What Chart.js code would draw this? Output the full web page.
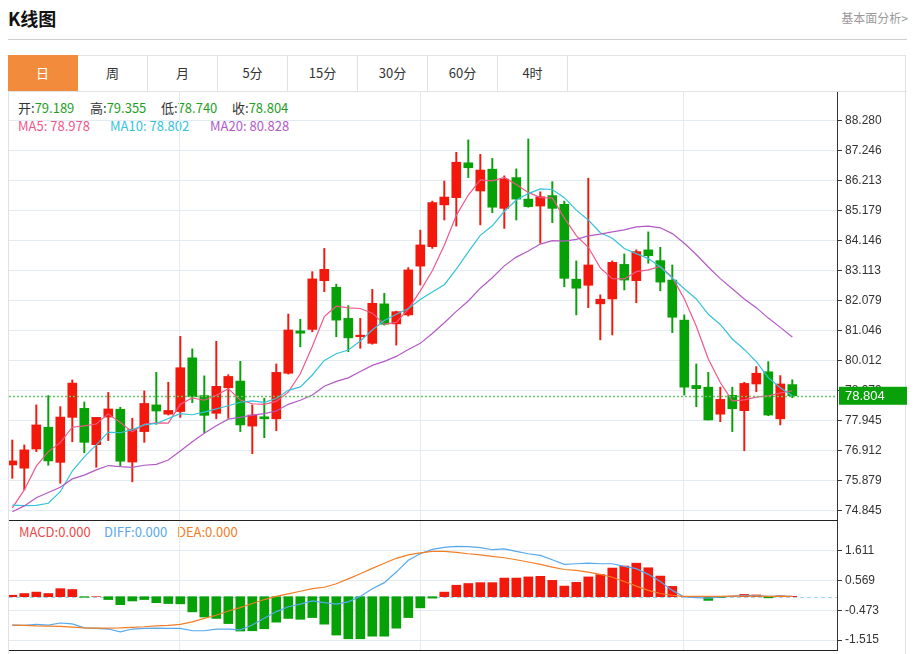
<!DOCTYPE html>
<html lang="zh">
<head>
<meta charset="UTF-8">
<title>K线图</title>
<script src="https://cdn.jsdelivr.net/npm/chart.js@4"></script>
<style>
  body { margin: 0; width: 916px; height: 654px; overflow: hidden; background: #fff; position: relative;
         font-family: "Noto Sans CJK SC", "Liberation Sans", sans-serif; color: #333; }
  .abs { position: absolute; }
  .title { left: 8px; top: 6px; font-size: 18px; font-weight: 700; color: #111; line-height: 24px; }
  .link { right: 8px; top: 9px; font-size: 12px; color: #999; line-height: 18px; }
  .hr { left: 8px; top: 39px; width: 899px; height: 1px; background: #cfcfcf; }
  .panel { left: 8px; top: 55px; width: 898px; height: 620px; border: 1px solid #e2e2e2; box-sizing: border-box; }
  .tabbar { left: 8px; top: 91px; width: 899px; height: 1px; background: #e2e2e2; }
  .tab { top: 55px; width: 70px; height: 36px; line-height: 36px; text-align: center; font-size: 13px;
         color: #333; border-right: 1px solid #e2e2e2; box-sizing: border-box; }
  .tab.on { background: #f28c3c; color: #fff; border-right-color: #f28c3c; }
  .leg { font-size: 13px; line-height: 18px; white-space: nowrap; }
  .k { color: #333; }
  .g { color: #1f9f1f; }
  .blk { background: #222; height: 1px; }
  canvas { position: absolute; }
</style>
</head>
<body>
  <div class="abs title">K线图</div>
  <div class="abs link">基本面分析&gt;</div>
  <div class="abs hr"></div>
  <div class="abs panel"></div>
  <div id="tabs"></div>
  <div class="abs tabbar"></div>

  <div id="legend"></div>

  <canvas id="kline" width="898" height="429" style="left:9px; top:92px; width:898px; height:429px;"></canvas>
  <canvas id="macdChart" width="898" height="129" style="left:9px; top:521px; width:898px; height:129px;"></canvas>
  <div class="abs blk" style="left:9px; top:520px; width:829px;"></div>
  <div class="abs blk" style="left:9px; top:650px; width:829px;"></div>

<script>
  // 日K数据 (最后一根为当前)
  const tabNames = ["日", "周", "月", "5分", "15分", "30分", "60分", "4时"];

  const open = [76.42, 76.31, 76.97, 77.72, 76.51, 78.06, 78.37, 77.12, 78.07, 78.34,
    76.52, 77.57, 78.49, 78.17, 78.26, 80.11, 78.81, 78.20, 79.08, 79.31,
    77.76, 78.08, 78.01, 79.58, 81.04, 81.09, 82.77, 82.54, 81.47, 80.84,
    80.61, 81.97, 81.28, 81.59, 83.27, 83.94, 85.38, 85.63, 86.83, 85.86,
    86.61, 85.26, 86.32, 85.58, 85.34, 85.70, 85.40, 82.82, 82.61, 81.97,
    82.14, 83.33, 82.77, 83.83, 83.46, 82.79, 81.41, 79.16, 79.10, 78.17,
    78.82, 78.29, 79.21, 79.63, 78.01, 79.189];
  const high = [77.28, 77.11, 78.49, 78.81, 78.43, 79.35, 78.59, 78.06, 78.92, 78.41,
    78.03, 78.97, 79.61, 79.27, 80.85, 80.42, 79.49, 80.68, 79.53, 79.99,
    78.49, 78.72, 79.90, 81.62, 81.44, 83.08, 83.88, 82.65, 81.91, 81.47,
    82.47, 82.33, 81.72, 83.22, 84.51, 85.51, 86.20, 87.19, 87.62, 87.12,
    86.98, 86.38, 86.62, 87.65, 85.83, 86.18, 85.51, 83.45, 86.30, 82.28,
    83.45, 83.69, 83.83, 84.45, 83.92, 83.31, 81.59, 79.90, 79.61, 79.10,
    79.10, 79.27, 79.81, 79.98, 79.50, 79.355];
  const low = [75.96, 75.56, 76.88, 76.41, 75.79, 77.22, 76.84, 76.34, 77.26, 76.38,
    75.84, 77.20, 77.82, 78.14, 78.06, 78.57, 77.53, 78.01, 78.03, 77.57,
    76.81, 77.36, 77.60, 79.55, 80.49, 81.01, 82.39, 80.84, 80.32, 80.44,
    80.58, 81.24, 80.55, 81.55, 82.62, 83.88, 84.86, 84.65, 86.32, 84.69,
    85.11, 84.57, 84.86, 85.30, 84.06, 84.77, 82.56, 81.59, 81.84, 80.73,
    80.90, 82.45, 82.01, 83.37, 82.42, 80.98, 78.83, 78.43, 77.97, 77.91,
    77.57, 76.91, 78.94, 78.12, 77.80, 78.740];
  const close = [76.56, 76.94, 77.80, 76.56, 78.07, 79.24, 77.20, 78.06, 78.35, 76.55,
    77.65, 78.54, 78.28, 78.30, 79.77, 78.77, 78.13, 79.13, 79.47, 77.80,
    78.14, 78.01, 79.61, 81.07, 80.96, 82.83, 83.16, 81.41, 80.80, 80.87,
    81.99, 81.27, 81.70, 83.14, 84.00, 85.46, 85.65, 86.85, 86.66, 86.58,
    85.30, 86.27, 85.58, 85.32, 85.66, 85.26, 82.85, 82.51, 83.31, 82.13,
    83.40, 82.79, 83.77, 83.63, 82.72, 81.51, 79.10, 79.05, 77.97, 78.68,
    78.36, 79.23, 79.58, 78.14, 79.21, 78.804];

  const ma5 = [74.94, 75.56, 76.38, 76.88, 77.19, 77.72, 77.77, 77.83, 78.18, 77.88,
    77.56, 77.83, 77.87, 77.86, 78.51, 78.73, 78.65, 78.82, 79.05, 78.66,
    78.53, 78.51, 78.61, 78.93, 79.56, 80.50, 81.53, 81.89, 81.83, 81.81,
    81.65, 81.27, 81.33, 81.79, 82.42, 83.11, 83.99, 85.02, 85.72, 86.24,
    86.21, 86.33, 86.08, 85.81, 85.63, 85.62, 84.93, 84.32, 83.92, 83.21,
    82.84, 82.83, 83.08, 83.14, 83.26, 82.88, 82.15, 81.20, 80.07, 79.26,
    78.63, 78.66, 78.76, 78.80, 78.90, 78.978];
  const ma10 = [75.04, 75.02, 75.03, 75.10, 75.50, 76.21, 76.70, 77.11, 77.55, 77.53,
    77.64, 77.80, 77.85, 78.02, 78.19, 78.15, 78.24, 78.35, 78.46, 78.58,
    78.63, 78.58, 78.71, 78.99, 79.11, 79.52, 80.02, 80.25, 80.38, 80.69,
    81.07, 81.40, 81.61, 81.81, 82.12, 82.38, 82.63, 83.17, 83.76, 84.33,
    84.66, 85.16, 85.55, 85.77, 85.93, 85.91, 85.63, 85.20, 84.86, 84.42,
    84.23, 83.88, 83.70, 83.53, 83.24, 82.86, 82.49, 82.14, 81.61, 81.26,
    80.76, 80.40, 79.98, 79.43, 79.08, 78.802];
  const ma20 = [74.81, 75.01, 75.29, 75.47, 75.65, 75.94, 76.07, 76.25, 76.40, 76.36,
    76.34, 76.41, 76.44, 76.59, 76.90, 77.22, 77.51, 77.77, 78.00, 78.06,
    78.14, 78.19, 78.28, 78.51, 78.65, 78.83, 79.13, 79.30, 79.42, 79.64,
    79.85, 79.99, 80.16, 80.40, 80.61, 80.95, 81.32, 81.71, 82.07, 82.51,
    82.87, 83.28, 83.58, 83.79, 84.03, 84.15, 84.13, 84.19, 84.31, 84.37,
    84.45, 84.52, 84.62, 84.65, 84.59, 84.39, 84.06, 83.67, 83.24, 82.84,
    82.49, 82.14, 81.84, 81.48, 81.16, 80.828];

  const macd = [0.05, 0.11, 0.16, 0.11, 0.28, 0.25, -0.02, 0.00, -0.10, -0.28,
    -0.15, -0.10, -0.21, -0.24, -0.25, -0.53, -0.71, -0.76, -0.94, -1.20,
    -1.19, -1.12, -0.89, -0.76, -0.79, -0.73, -0.96, -1.34, -1.47, -1.47,
    -1.38, -1.38, -1.10, -0.73, -0.39, -0.05, 0.16, 0.40, 0.46, 0.49,
    0.49, 0.65, 0.65, 0.69, 0.71, 0.57, 0.37, 0.50, 0.69, 0.77,
    1.00, 1.07, 1.17, 1.01, 0.72, 0.36, 0.00, 0.00, -0.13, -0.03,
    0.02, 0.08, 0.06, -0.04, 0.03, 0.01];
  const dif = [-0.99, -1.00, -0.97, -0.99, -0.92, -0.95, -1.09, -1.11, -1.13, -1.23,
    -1.13, -1.11, -1.10, -1.11, -1.11, -1.19, -1.19, -1.13, -1.13, -1.16,
    -0.99, -0.75, -0.52, -0.35, -0.26, -0.15, -0.21, -0.26, -0.18, 0.01,
    0.28, 0.49, 0.86, 1.27, 1.50, 1.65, 1.72, 1.76, 1.75, 1.71,
    1.64, 1.67, 1.58, 1.50, 1.44, 1.29, 1.13, 1.15, 1.17, 1.15,
    1.15, 1.06, 0.98, 0.78, 0.53, 0.22, -0.01, -0.03, -0.05, -0.01,
    0.01, 0.05, 0.04, 0.01, 0.02, 0.01];
  const dea = [-0.99, -1.00, -1.02, -1.03, -1.04, -1.06, -1.09, -1.10, -1.10, -1.09,
    -1.07, -1.05, -1.02, -1.00, -0.97, -0.88, -0.76, -0.65, -0.50, -0.38,
    -0.24, -0.10, 0.01, 0.10, 0.19, 0.28, 0.33, 0.45, 0.62, 0.80,
    0.99, 1.17, 1.34, 1.46, 1.53, 1.58, 1.58, 1.55, 1.50, 1.46,
    1.41, 1.36, 1.29, 1.21, 1.13, 1.03, 0.95, 0.92, 0.86, 0.78,
    0.68, 0.53, 0.37, 0.22, 0.11, 0.05, 0.01, 0.01, 0.01, 0.01,
    0.02, 0.02, 0.02, 0.01, 0.01, 0.01];

  const priceTicks = [88.280, 87.246, 86.213, 85.179, 84.146, 83.113, 82.079, 81.046,
    80.012, 78.979, 77.945, 76.912, 75.879, 74.845];
  const macdTicks = [1.611, 0.569, -0.473, -1.515];

  // ---- 页面文字 ----
  const tabsEl = document.getElementById("tabs");
  tabNames.forEach((t, i) => {
    const d = document.createElement("div");
    d.className = "abs tab" + (i === 0 ? " on" : "");
    d.style.left = (8 + i * 70) + "px";
    d.textContent = t;
    tabsEl.appendChild(d);
  });

  const last = close.length - 1;
  const lg = document.getElementById("legend");
  const addText = (left, top, html) => {
    const d = document.createElement("div");
    d.className = "abs leg";
    d.style.left = left + "px";
    d.style.top = top + "px";
    d.innerHTML = html;
    lg.appendChild(d);
  };
  addText(18, 99, `<span class="k">开:</span><span class="g">${open[last].toFixed(3)}</span>`);
  addText(90, 99, `<span class="k">高:</span><span class="g">${high[last].toFixed(3)}</span>`);
  addText(161, 99, `<span class="k">低:</span><span class="g">${low[last].toFixed(3)}</span>`);
  addText(232, 99, `<span class="k">收:</span><span class="g">${close[last].toFixed(3)}</span>`);
  addText(18, 117, `<span style="color:#f0588a">MA5: ${ma5[last].toFixed(3)}</span>`);
  addText(110, 117, `<span style="color:#35c3dc">MA10: ${ma10[last].toFixed(3)}</span>`);
  addText(210, 117, `<span style="color:#b35ac6">MA20: ${ma20[last].toFixed(3)}</span>`);
  addText(19, 523, `<span style="color:#ee4848">MACD:0.000</span>`);
  addText(104, 523, `<span style="color:#57a9ee">DIFF:0.000</span>`);
  addText(177, 523, `<span style="color:#f27d26">DEA:0.000</span>`);

  // ---- 图表 ----
  const UP = "#f2180c", DOWN = "#06a106", GRID = "#e3ebf2";
  const idx = close.map((_, i) => i);
  const candleColor = idx.map(i => close[i] >= open[i] ? UP : DOWN);
  const xMin = -0.275, xMax = 68.725;

  const xScale = {
    type: "linear", min: xMin, max: xMax, offset: false,
    grid: { color: GRID, drawTicks: false, offset: false },
    border: { display: false },
    ticks: { display: false },
    afterBuildTicks: s => { s.ticks = [13.9, 34.0, 55.9].map(v => ({ value: v })); },
    afterFit: s => { s.height = 0; s.paddingLeft = 0; s.paddingRight = 0; }
  };
  const yScale = (min, max, tickVals) => ({
    position: "right", min: min, max: max,
    grid: { color: GRID, tickColor: "#333", tickLength: 5 },
    border: { color: "#333" },
    ticks: { color: "#333", padding: 3, font: { family: "Liberation Sans", size: 12 },
             callback: v => v.toFixed(3) },
    afterBuildTicks: s => { s.ticks = tickVals.map(v => ({ value: v })); },
    afterFit: s => { s.width = 70; s.paddingTop = 0; s.paddingBottom = 0; }
  });
  const lineSet = (vals, color) => ({
    type: "line", data: idx.map(i => ({ x: i, y: vals[i] })),
    borderColor: color, borderWidth: 1.2, pointRadius: 0, tension: 0, order: 1
  });

  const priceMarker = {
    id: "priceMarker",
    afterDatasetsDraw(chart) {
      const { ctx, chartArea: a, scales: { y } } = chart;
      const py = Math.round(y.getPixelForValue(close[last])) + 0.5;
      ctx.save();
      ctx.strokeStyle = "#62c462";
      ctx.lineWidth = 1.5;
      ctx.setLineDash([2, 2]);
      ctx.beginPath();
      ctx.moveTo(a.left, py);
      ctx.lineTo(a.right, py);
      ctx.stroke();
      ctx.restore();
    },
    afterDraw(chart) {
      const { ctx, chartArea: a, scales: { y } } = chart;
      const py = y.getPixelForValue(close[last]);
      ctx.save();
      ctx.fillStyle = "#09a109";
      ctx.fillRect(a.right + 2, py - 9, chart.width - a.right - 2, 18);
      ctx.fillStyle = "#fff";
      ctx.font = '13px "Liberation Sans"';
      ctx.textBaseline = "middle";
      ctx.fillText(close[last].toFixed(3), a.right + 8, py + 1);
      ctx.restore();
    }
  };

  new Chart(document.getElementById("kline"), {
    type: "bar",
    data: {
      datasets: [
        { data: idx.map(i => ({ x: i, y: [low[i], high[i]] })), backgroundColor: candleColor,
          barThickness: 1.3, grouped: false, order: 5 },
        { data: idx.map(i => ({ x: i, y: [open[i], close[i]] })), backgroundColor: candleColor,
          barThickness: 9, grouped: false, minBarLength: 1.5, order: 4 },
        lineSet(ma20, "#b35ac6"),
        lineSet(ma10, "#35c3dc"),
        lineSet(ma5, "#f0588a")
      ]
    },
    options: {
      responsive: false, animation: false, events: [],
      layout: { padding: 0 },
      plugins: { legend: { display: false }, tooltip: { enabled: false } },
      scales: { x: xScale, y: yScale(74.49, 89.269, priceTicks) }
    },
    plugins: [priceMarker]
  });

  const zeroLine = {
    id: "zeroLine",
    beforeDatasetsDraw(chart) {
      const { ctx, chartArea: a, scales: { y } } = chart;
      const py = Math.round(y.getPixelForValue(0)) + 0.5;
      ctx.save();
      ctx.strokeStyle = "#9fd3f0";
      ctx.lineWidth = 1;
      ctx.setLineDash([4, 3]);
      ctx.beginPath();
      ctx.moveTo(a.left, py);
      ctx.lineTo(a.right, py);
      ctx.stroke();
      ctx.restore();
    }
  };

  new Chart(document.getElementById("macdChart"), {
    type: "bar",
    data: {
      datasets: [
        { data: idx.map(i => ({ x: i, y: macd[i] })),
          backgroundColor: idx.map(i => macd[i] >= 0 ? UP : DOWN),
          barThickness: 9, grouped: false, order: 3 },
        lineSet(dea, "#f27d26"),
        lineSet(dif, "#57a9ee")
      ]
    },
    options: {
      responsive: false, animation: false, events: [],
      layout: { padding: 0 },
      plugins: { legend: { display: false }, tooltip: { enabled: false } },
      scales: { x: xScale, y: yScale(-1.862, 2.643, macdTicks) }
    },
    plugins: [zeroLine]
  });
</script>
</body>
</html>
